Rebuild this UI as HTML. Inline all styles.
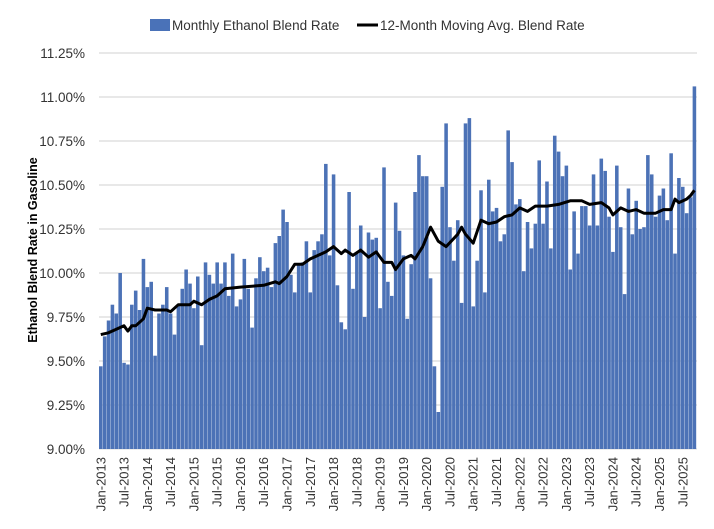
<!DOCTYPE html>
<html><head><meta charset="utf-8"><style>
html,body{margin:0;padding:0;background:#fff;}
svg{display:block;font-family:"Liberation Sans",Arial,sans-serif;}
</style></head><body>
<svg id="c" width="714" height="529" viewBox="0 0 714 529" xmlns="http://www.w3.org/2000/svg">
<rect width="714" height="529" fill="#fff"/>
<g id="grid"></g><g id="bars"></g><g id="line"></g><g id="lab"></g>
<rect x="150" y="19" width="20" height="12" fill="#4a72b8"/>
<text x="172" y="30" font-size="13.5" fill="#333">Monthly Ethanol Blend Rate</text>
<line x1="357" y1="25" x2="378" y2="25" stroke="#000" stroke-width="3"/>
<text x="380" y="30" font-size="13.5" fill="#333">12-Month Moving Avg. Blend Rate</text>
<text transform="translate(37,250) rotate(-90)" text-anchor="middle" font-size="12.5" font-weight="bold" fill="#000">Ethanol Blend Rate in Gasoline</text>
</svg>
<script>
var NS="http://www.w3.org/2000/svg";
function el(p,t,a,txt){var e=document.createElementNS(NS,t);for(var k in a)e.setAttribute(k,a[k]);if(txt!==undefined)e.textContent=txt;document.getElementById(p).appendChild(e);return e;}
var y=function(v){return 449-(v-9)*176;};
var x0=99,w=3.88;
var labs=["9.00%","9.25%","9.50%","9.75%","10.00%","10.25%","10.50%","10.75%","11.00%","11.25%"];
for(var i=0;i<10;i++){var yy=y(9+i*0.25);
 if(i>0)el("grid","line",{x1:99,x2:697,y1:yy,y2:yy,stroke:"#d9d9d9","stroke-width":1.3});
 el("lab","text",{x:85,y:yy+5,"text-anchor":"end","font-size":"13.5",fill:"#333"},labs[i]);}
var d=[9.47,9.64,9.73,9.82,9.77,10.00,9.49,9.48,9.82,9.90,9.79,10.08,9.92,9.95,9.53,9.77,9.82,9.92,9.77,9.65,9.82,9.91,10.02,9.94,9.80,9.98,9.59,10.06,9.99,9.94,10.06,
9.94,10.06,9.87,10.11,9.81,9.85,10.08,9.91,9.69,9.97,10.09,10.01,10.03,9.92,10.17,10.21,10.36,10.29,9.99,9.89,10.05,10.06,10.18,9.89,10.13,10.18,10.22,10.62,10.10,10.56,9.93,
9.72,9.68,10.46,9.91,10.11,10.27,9.75,10.23,10.19,10.20,9.80,10.60,9.95,9.87,10.40,10.24,10.10,9.74,10.05,10.46,10.67,10.55,10.55,9.97,9.47,9.21,10.49,10.85,10.26,10.07,10.30,
9.83,10.85,10.88,9.81,10.07,10.47,9.89,10.53,10.35,10.37,10.18,10.22,10.81,10.63,10.39,10.42,10.01,10.29,10.14,10.28,10.64,10.28,10.52,10.14,10.78,10.69,10.55,10.61,10.02,
10.35,10.11,10.38,10.38,10.27,10.56,10.27,10.65,10.58,10.32,10.12,10.61,10.26,9.88,10.48,10.22,10.41,10.25,10.26,10.67,10.56,10.32,10.44,10.48,10.30,10.68,10.11,10.54,10.49,10.34,10.43,11.06];
for(var i=0;i<d.length;i++){var t=y(d[i]);el("bars","rect",{x:(x0+i*w).toFixed(2),y:t.toFixed(1),width:3.55,height:(449-t).toFixed(1),fill:"#4c72b6"});}
el("grid","line",{x1:99,x2:697,y1:449,y2:449,stroke:"#d9d9d9","stroke-width":1});
var k=[[0,9.65],[2,9.66],[6,9.70],[7,9.67],[8,9.70],[9,9.70],[11,9.74],[12,9.80],[14,9.79],[17,9.79],[18,9.78],[20,9.82],[23,9.82],[24,9.84],[26,9.82],[28,9.85],[30,9.87],[32,9.91],[36,9.92],[42,9.93],[45,9.95],[46,9.94],[48,9.98],[50,10.05],[52,10.05],[54,10.08],[56,10.10],[58,10.12],[60,10.15],[62,10.11],[63,10.13],[65,10.10],[67,10.13],[69,10.09],[71,10.12],[73,10.06],[75,10.06],[76,10.02],[78,10.08],[80,10.10],[81,10.08],[83,10.15],[85,10.26],[87,10.18],[89,10.15],[92,10.22],[93,10.26],[94,10.22],[96,10.17],[98,10.30],[100,10.28],[102,10.29],[104,10.32],[106,10.33],[108,10.37],[110,10.35],[112,10.38],[115,10.38],[118,10.39],[121,10.41],[124,10.41],[126,10.39],[129,10.40],[131,10.37],[132,10.33],[134,10.37],[136,10.35],[138,10.36],[140,10.34],[143,10.34],[145,10.36],[147,10.36],[148,10.42],[149,10.40],[151,10.42],[152,10.44],[153,10.47]];
var pts=[];
for(var i=0;i<k.length;i++){pts.push((x0+k[i][0]*w+1.75).toFixed(1)+","+y(k[i][1]).toFixed(1));}
el("line","polyline",{points:pts.join(" "),fill:"none",stroke:"#000","stroke-width":3,"stroke-linejoin":"round"});
var mn=["Jan","Jul"];
for(var m=0;m<154;m+=6){var yr=2013+Math.floor(m/12);var s=mn[(m%12)/6]+"-"+yr;var cx=x0+m*w+1.75+4.5;
 el("lab","text",{transform:"translate("+cx.toFixed(1)+",457) rotate(-90)","text-anchor":"end","font-size":"13",fill:"#333"},s);}
</script>
</body></html>
